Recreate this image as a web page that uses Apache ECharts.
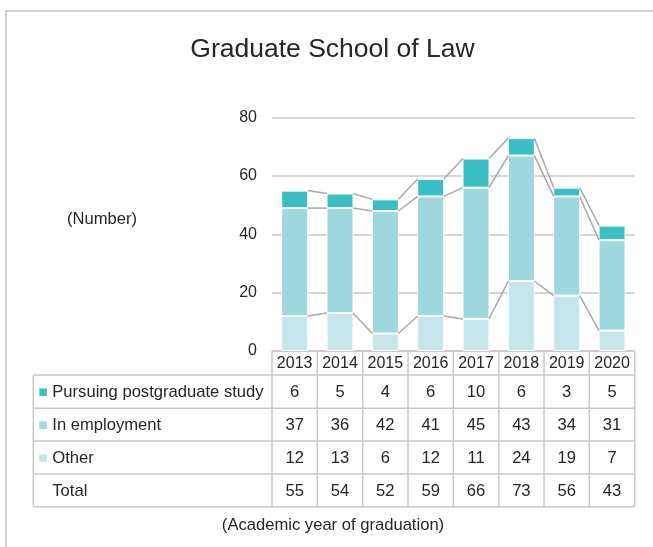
<!DOCTYPE html>
<html><head><meta charset="utf-8">
<script src="https://cdn.jsdelivr.net/npm/echarts@6/dist/echarts.min.js"></script>
<style>html,body{margin:0;padding:0;background:#fff}#c{width:653px;height:547px}</style>
</head><body><div id="c"></div>
<script>
// ---- data ----
const years = ['2013','2014','2015','2016','2017','2018','2019','2020'];
const seriesNames = ['Pursuing postgraduate study','In employment','Other'];
const postgrad   = [6, 5, 4, 6, 10, 6, 3, 5];
const employment = [37, 36, 42, 41, 45, 43, 34, 31];
const other      = [12, 13, 6, 12, 11, 24, 19, 7];
const totals     = [55, 54, 52, 59, 66, 73, 56, 43];
const yMin = 0, yMax = 80, yStep = 20;
const titleText = 'Graduate School of Law';
const unitText = '(Number)';
const xCaption = '(Academic year of graduation)';

// ---- styles ----
const FONT = '"Liberation Sans", Arial, sans-serif';
const TXT = '#262626';
const C_POST = '#3bbfc4', C_EMP = '#9fd8df', C_OTH = '#c5e7ec';
const LINE = '#c9c9c9';
const SERLINE = '#a9a9a9';
const GL = 272, GR = 634.7, GT = 117.7, GB = 351;
const W = 653, H = 547;
const BARW = 27;

const chart = echarts.init(document.getElementById('c'), null, {renderer: 'canvas'});

// cumulative boundaries for series lines
const cOther = other.slice();
const cEmp = other.map((v, i) => v + employment[i]);
const cTop = cEmp.map((v, i) => v + postgrad[i]);
function segs(arr) {
  const out = [];
  for (let i = 0; i < arr.length - 1; i++) out.push([i, arr[i], arr[i + 1]]);
  return out;
}
const lineData = segs(cOther).concat(segs(cEmp)).concat(segs(cTop));

function barSeries(name, data, color) {
  return {
    name: name, type: 'bar', stack: 'total', barWidth: BARW, data: data,
    itemStyle: {color: color, borderColor: '#fff', borderWidth: 1},
    silent: true, z: 2
  };
}

const option = {
  animation: false,
  backgroundColor: '#fff',
  title: {
    text: titleText, left: 327.5, top: 31, textAlign: 'center',
    textStyle: {fontFamily: FONT, fontSize: 26.5, fontWeight: 'normal', color: TXT}
  },
  grid: {left: GL, right: W - GR, top: GT, bottom: H - GB, containLabel: false},
  xAxis: {
    type: 'category', data: years,
    axisLine: {show: false}, axisTick: {show: false}, axisLabel: {show: false}
  },
  yAxis: {
    type: 'value', min: yMin, max: yMax, interval: yStep,
    axisLine: {show: false}, axisTick: {show: false},
    axisLabel: {fontFamily: FONT, fontSize: 16, color: TXT, margin: 15},
    splitLine: {lineStyle: {color: LINE, width: 1.5}}
  },
  series: [
    barSeries(seriesNames[2], other, C_OTH),
    barSeries(seriesNames[1], employment, C_EMP),
    barSeries(seriesNames[0], postgrad, C_POST),
    {
      type: 'custom', silent: true, z: 3, clip: false,
      data: lineData, encode: {x: 0, y: [1, 2]},
      renderItem: function (params, api) {
        const i = api.value(0);
        const p1 = api.coord([i, api.value(1)]);
        const p2 = api.coord([i + 1, api.value(2)]);
        const half = (BARW - 1) / 2;
        return {
          type: 'line',
          shape: {x1: p1[0] + half, y1: p1[1], x2: p2[0] - half, y2: p2[1]},
          style: {stroke: SERLINE, lineWidth: 1.5}
        };
      }
    }
  ]
};
chart.setOption(option);

// ---- data table + frame built from arrays ----
const n = years.length;
const colW = (GR - GL) / n;
const TL = 33.3;
const rowEdges = [375, 408.3, 441, 474, 506.7];
const headTop = GB;
const g = [];
g.push({type: 'rect', shape: {x: 6, y: 11, width: 700, height: 600}, style: {fill: null, stroke: '#c4c4c4', lineWidth: 1.5}});
g.push({type: 'line', shape: {x1: GL, y1: headTop, x2: GR, y2: headTop}, style: {stroke: LINE, lineWidth: 1.5}});
rowEdges.forEach(y => g.push({type: 'line', shape: {x1: TL, y1: y, x2: GR, y2: y}, style: {stroke: LINE, lineWidth: 1.5}}));
g.push({type: 'line', shape: {x1: TL, y1: rowEdges[0], x2: TL, y2: rowEdges[4]}, style: {stroke: LINE, lineWidth: 1.5}});
for (let k = 0; k <= n; k++) {
  const x = GL + k * colW;
  g.push({type: 'line', shape: {x1: x, y1: headTop, x2: x, y2: rowEdges[4]}, style: {stroke: LINE, lineWidth: 1.5}});
}
years.forEach((yr, i) => {
  const cx = chart.convertToPixel({xAxisIndex: 0}, i);
  g.push({type: 'text', x: cx, y: (headTop + rowEdges[0]) / 2 + 1, style: {text: yr, fontFamily: FONT, fontSize: 16, fill: TXT, align: 'center', verticalAlign: 'middle'}});
});
const rows = [
  {name: seriesNames[0], color: C_POST, vals: postgrad},
  {name: seriesNames[1], color: C_EMP, vals: employment},
  {name: seriesNames[2], color: C_OTH, vals: other},
  {name: 'Total', color: null, vals: totals}
];
rows.forEach((r, ri) => {
  const cy = (rowEdges[ri] + rowEdges[ri + 1]) / 2 + 1;
  if (r.color) g.push({type: 'rect', shape: {x: 39.3, y: cy - 4.2, width: 7.6, height: 7.6}, style: {fill: r.color}});
  g.push({type: 'text', x: 52.3, y: cy, style: {text: r.name, fontFamily: FONT, fontSize: 16.6, fill: TXT, align: 'left', verticalAlign: 'middle'}});
  r.vals.forEach((v, i) => {
    const cx = chart.convertToPixel({xAxisIndex: 0}, i);
    g.push({type: 'text', x: cx, y: cy, style: {text: String(v), fontFamily: FONT, fontSize: 16.6, fill: TXT, align: 'center', verticalAlign: 'middle'}});
  });
});
g.push({type: 'text', x: 102, y: 219, style: {text: unitText, fontFamily: FONT, fontSize: 16.6, fill: TXT, align: 'center', verticalAlign: 'middle'}});
g.push({type: 'text', x: 333, y: 525, style: {text: xCaption, fontFamily: FONT, fontSize: 16.6, fill: TXT, align: 'center', verticalAlign: 'middle'}});
g.forEach(e => { e.silent = true; });
chart.setOption({graphic: {elements: g}});
</script>
</body></html>
